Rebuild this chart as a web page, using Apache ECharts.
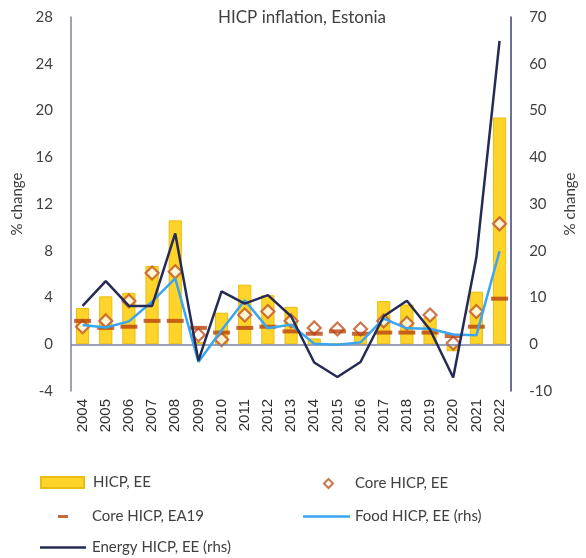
<!DOCTYPE html>
<html>
<head>
<meta charset="utf-8">
<script src="https://cdn.jsdelivr.net/npm/echarts@6/dist/echarts.min.js"></script>
<style>
  html, body { margin: 0; padding: 0; background: #ffffff; }
  #chart { width: 586px; height: 558px; }
</style>
</head>
<body>
<div id="chart"></div>
<script>
// Annual HICP inflation in Estonia, % change
const years = ['2004','2005','2006','2007','2008','2009','2010','2011','2012','2013',
               '2014','2015','2016','2017','2018','2019','2020','2021','2022'];
const hicpEE      = [3.1, 4.1, 4.4, 6.7, 10.6, 0.2, 2.7, 5.1, 4.2, 3.2, 0.5, 0.1, 0.8, 3.7, 3.4, 2.3, -0.6, 4.5, 19.4];
const coreEE      = [1.5, 2.0, 3.7, 6.1, 6.2, 0.8, 0.4, 2.5, 2.8, 2.0, 1.4, 1.3, 1.3, 2.0, 1.8, 2.5, 0.1, 2.8, 10.3];
const coreEA19    = [2.0, 1.4, 1.5, 2.0, 2.0, 1.4, 1.0, 1.4, 1.5, 1.1, 0.9, 1.1, 0.9, 1.0, 1.0, 1.0, 0.7, 1.5, 3.9];
const foodEE      = [4.1, 3.6, 4.9, 9.1, 14.1, -3.8, 3.0, 9.4, 3.4, 4.2, 0.1, -0.1, 0.4, 5.5, 3.4, 3.3, 2.1, 1.9, 19.9];
const energyEE    = [8.2, 13.5, 8.2, 8.2, 23.7, -3.5, 11.3, 8.7, 10.5, 6.0, -3.9, -7.0, -3.8, 6.0, 9.3, 3.1, -7.1, 18.6, 64.9];

const leftTicks  = { min: -4, max: 28, interval: 4 };
const rightTicks = { min: -10, max: 70, interval: 10 };

const FONT = 'Lato';
const TEXT = '#404040';
const AXIS_LEFT = '#7c80a0';
const AXIS_RIGHT = '#3c4170';

const chart = echarts.init(document.getElementById('chart'), null, { renderer: 'canvas' });

// One legend box per entry so each can sit in its own slot
function legendBox(name, left, top, iconW, iconH, icon, textGap) {
  return {
    data: [{ name: name, icon: icon }],
    left: left,
    top: top,
    padding: 0,
    selectedMode: false,
    itemGap: 0,
    itemWidth: iconW,
    itemHeight: iconH,
    textStyle: { fontFamily: FONT, fontSize: 15, color: TEXT, padding: [0, 0, 0, textGap] }
  };
}

chart.setOption({
  animation: false,
  title: {
    text: 'HICP inflation, Estonia',
    left: 297,
    top: 4,
    textAlign: 'center',
    textStyle: { fontFamily: FONT, fontSize: 17, fontWeight: 'normal', color: TEXT }
  },
  grid: { left: 71, right: 63, top: 17, bottom: 167, containLabel: false },
  legend: [
    legendBox('HICP, EE', 40, 475, 43, 11, 'rect', 4),
    legendBox('Core HICP, EE', 323, 476, 9, 9, 'diamond', 17),
    legendBox('Core HICP, EA19', 58, 509, 10, 3, 'rect', 19),
    legendBox('Food HICP, EE (rhs)', 303, 509, 47, 2.5, 'rect', 0),
    legendBox('Energy HICP, EE (rhs)', 40, 540, 46, 2.5, 'rect', 1)
  ],
  xAxis: {
    type: 'category',
    data: years,
    boundaryGap: true,
    axisLine: { show: false },
    axisTick: { show: false },
    axisLabel: {
      rotate: 90,
      margin: 8,
      fontFamily: 'Liberation Sans',
      fontSize: 15,
      color: '#303030'
    }
  },
  yAxis: [
    {
      type: 'value',
      min: leftTicks.min, max: leftTicks.max, interval: leftTicks.interval,
      name: '% change',
      nameLocation: 'middle',
      nameGap: 46,
      nameRotate: 90,
      nameTextStyle: { fontFamily: FONT, fontSize: 15, color: TEXT },
      splitLine: { show: false },
      axisTick: { show: false },
      axisLine: { show: true, lineStyle: { color: AXIS_LEFT, width: 1.5 } },
      axisLabel: { margin: 18, fontFamily: FONT, fontSize: 15, color: TEXT }
    },
    {
      type: 'value',
      min: rightTicks.min, max: rightTicks.max, interval: rightTicks.interval,
      name: '% change',
      nameLocation: 'middle',
      nameGap: 46,
      nameRotate: 90,
      nameTextStyle: { fontFamily: FONT, fontSize: 15, color: TEXT },
      splitLine: { show: false },
      axisTick: { show: false },
      axisLine: { show: true, lineStyle: { color: AXIS_RIGHT, width: 1.5 } },
      axisLabel: { margin: 18, fontFamily: FONT, fontSize: 15, color: TEXT }
    }
  ],
  series: [
    {
      name: 'HICP, EE',
      type: 'bar',
      data: hicpEE,
      barWidth: '57%',
      itemStyle: { color: '#FFD42A', borderColor: '#E8BE10', borderWidth: 1 },
      markLine: {
        silent: true,
        symbol: 'none',
        label: { show: false },
        lineStyle: { color: AXIS_LEFT, width: 1.5, type: 'solid' },
        data: [{ yAxis: 0 }]
      },
      z: 1
    },
    {
      name: 'Core HICP, EE',
      type: 'scatter',
      data: coreEE,
      symbol: 'diamond',
      symbolSize: 13,
      itemStyle: { color: '#ffffff', borderColor: '#C0541F', borderWidth: 2.2 },
      z: 3
    },
    {
      name: 'Core HICP, EA19',
      type: 'scatter',
      data: coreEA19,
      symbol: 'rect',
      symbolSize: [17, 4],
      itemStyle: { color: '#B8430F' },
      z: 4
    },
    {
      name: 'Food HICP, EE (rhs)',
      type: 'line',
      yAxisIndex: 1,
      data: foodEE,
      symbol: 'none',
      lineStyle: { color: '#3AA5F0', width: 2.5 },
      itemStyle: { color: '#3AA5F0' },
      z: 5
    },
    {
      name: 'Energy HICP, EE (rhs)',
      type: 'line',
      yAxisIndex: 1,
      data: energyEE,
      symbol: 'none',
      lineStyle: { color: '#262B55', width: 2.5 },
      itemStyle: { color: '#262B55' },
      z: 6
    }
  ]
});
</script>
</body>
</html>
